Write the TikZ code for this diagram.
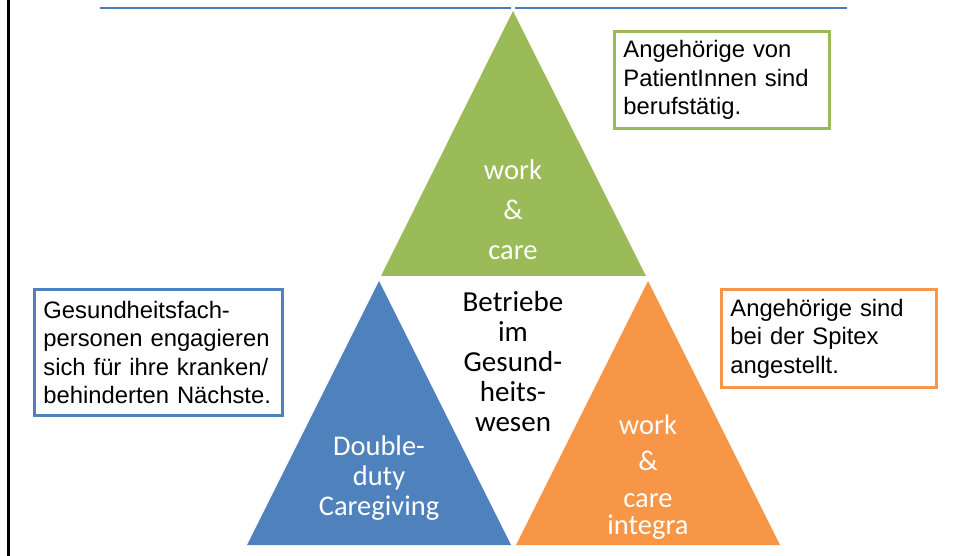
\documentclass[tikz,border=0pt]{standalone}
\usepackage{fontspec}
\setmainfont{Liberation Sans}
\newfontfamily\trifont{Carlito}
\usetikzlibrary{positioning}
\definecolor{trigreen}{HTML}{9BBB59}
\definecolor{triblue}{HTML}{4F81BD}
\definecolor{triorange}{HTML}{F79646}
\definecolor{topline}{HTML}{4A7EBB}

\begin{document}
\begin{tikzpicture}[x=1pt, y=-1pt]
    \tikzstyle{every node}=[inner sep=0pt]
    \tikzstyle{trilabel}=[text=white, align=center, font=\trifont\fontsize{28.5}{40}\selectfont]
    \tikzstyle{note}=[draw, line width=2.8pt, fill=white, align=left, anchor=north west,
        inner xsep=9pt, text=black, font=\fontsize{23.8}{28.5}\selectfont]

    \useasboundingbox (0,0) rectangle (954,556);

    % frame line and top rule
    \coordinate (ltop) at (8,0);
    \coordinate (lbot) at (8,556);
    \coordinate (ra) at (100,8);
    \coordinate (rb) at (511,8);
    \coordinate (rc) at (515,8);
    \coordinate (rd) at (847,8);
    \draw[line width=3pt] (ltop) -- (lbot);
    \draw[topline, line width=1.6pt] (ra) -- (rb) (rc) -- (rd);

    % triangles
    \coordinate (gtop)   at (513,11);
    \coordinate (gleft)  at (381,276);
    \coordinate (gright) at (646,276);
    \coordinate (btop)   at (379,281);
    \coordinate (bleft)  at (247,545);
    \coordinate (bright) at (511,545);
    \coordinate (otop)   at (648,281);
    \coordinate (oleft)  at (516,545);
    \coordinate (oright) at (780,545);
    \fill[trigreen]  (gtop) -- (gleft) -- (gright) -- cycle;
    \fill[triblue]   (btop) -- (bleft) -- (bright) -- cycle;
    \fill[triorange] (otop) -- (oleft) -- (oright) -- cycle;

    \node[trilabel] (work)   at (513,210) {work\\\&\\care};
    \node[trilabel, font=\trifont\fontsize{28.5}{30}\selectfont] (double) at (379,478) {Double-\\duty\\Caregiving};
    \node[trilabel, font=\trifont\fontsize{28.5}{36.5}\selectfont] (integra) at (648,477) {work\\\&\\care\\[-9pt]integra};
    \node[align=center, font=\trifont\fontsize{29}{30}\selectfont] (betriebe) at (513,362) {Betriebe\\im\\Gesund-\\heits-\\wesen};

    % notes
    \node[note, draw=trigreen, text width=197, minimum height=97] (relatives) at (613,30)
        {Angehörige von\\PatientInnen sind\\berufstätig.};
    \node[note, draw=triblue, text width=230, minimum height=126] (staff) at (33,288)
        {Gesundheitsfach-\\personen engagieren\\sich für ihre kranken/\\behinderten Nächste.};
    \node[note, draw=triorange, text width=197, minimum height=98] (spitex) at (720,288)
        {Angehörige sind\\bei der Spitex\\angestellt.};
\end{tikzpicture}
\end{document}
